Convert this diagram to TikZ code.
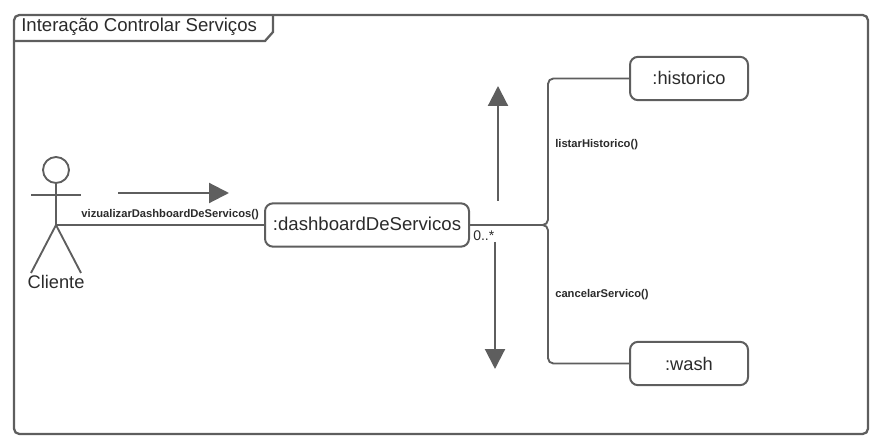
\documentclass[tikz,border=0pt]{standalone}
\usepackage{fontspec}
\setmainfont{Liberation Sans}
\usetikzlibrary{arrows.meta}
\definecolor{linecol}{HTML}{5E5E5E}
\definecolor{textcol}{HTML}{2B2B2B}
\tikzset{>={Triangle[length=15pt,width=15pt]},
  line/.style={draw=linecol,line width=1.4pt},
  flow/.style={->,draw=linecol,line width=1.6pt},
  obj/.style={draw=linecol,line width=1.5pt,rounded corners=6pt,fill=white,text=textcol,font=\fontsize{13.7}{16}\selectfont,minimum height=32.5pt},
  msg/.style={text=textcol,font=\fontsize{8.4}{10}\selectfont\bfseries,inner sep=0pt},
  txt/.style={text=textcol,inner sep=0pt}}

\begin{document}
\begin{tikzpicture}[x=0.75pt,y=-0.75pt]
\useasboundingbox (0,0) rectangle (880,448);
% frame and title tab
\draw[line,line width=1.7pt,rounded corners=4pt] (14,15) rectangle (868,434);
\draw[line,line width=1.7pt] (14,41) -- (265,41) -- (273,32) -- (273,15);
\node[txt,anchor=west,font=\fontsize{13.95}{16}\selectfont] (title) at (21,26.5) {Interação Controlar Serviços};
% actor
\node[circle,line,minimum size=19.5pt,inner sep=0pt] (head) at (56,170) {};
\coordinate (hip) at (56,225);
\coordinate (armL) at (31,195);
\coordinate (armR) at (81,195);
\coordinate (footL) at (31,273);
\coordinate (footR) at (81,273);
\draw[line] (head) -- (hip);
\draw[line] (armL) -- (armR);
\draw[line] (footL) -- (hip) -- (footR);
\node[txt,font=\fontsize{13.7}{16}\selectfont] (cliente) at (56,282) {Cliente};
% objects
\node[obj,minimum width=153pt] (dash) at (367,225) {\raisebox{1.2pt}{\fontsize{13.95}{16}\selectfont :dashboardDeServicos}};
\node[obj,minimum width=88.5pt] (hist) at (689,78.5) {\raisebox{0.8pt}{:historico}};
\node[obj,minimum width=88.5pt] (wash) at (689,363.5) {:wash};
\coordinate (fork) at (548,225);
% links
\path[line] (hip) edge node[msg,above=3.5pt,xshift=7.6pt] {vizualizarDashboardDeServicos()} (dash);
\draw[line,rounded corners=4pt] (dash) -- (fork) |- (hist);
\draw[line,rounded corners=4pt] (dash) -- (fork) |- (wash);
\node[msg,anchor=west] (listar) at (555,145) {listarHistorico()};
\node[msg,anchor=west] (cancelar) at (555,295) {cancelarServico()};
\node[txt,anchor=west,font=\fontsize{10.5}{12}\selectfont] (mult) at (473,236) {0..*};
% message arrows
\coordinate (a1) at (118,193);
\coordinate (a2) at (229,193);
\coordinate (b1) at (498,201);
\coordinate (b2) at (498,86);
\coordinate (c1) at (495,242);
\coordinate (c2) at (495,369);
\draw[flow] (a1) -- (a2);
\draw[flow] (b1) -- (b2);
\draw[flow] (c1) -- (c2);
\end{tikzpicture}
\end{document}
